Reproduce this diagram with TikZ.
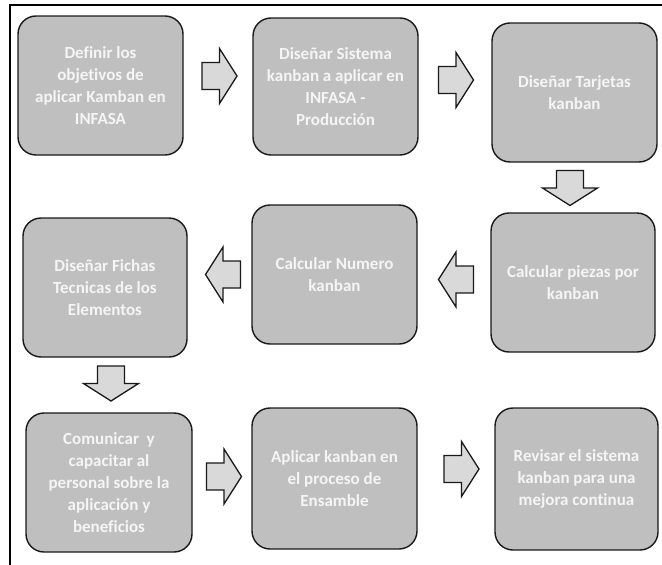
\documentclass[tikz,border=0pt]{standalone}
\usepackage{fontspec}
\setmainfont{Carlito}[Ligatures=NoCommon]
\begin{document}
\begin{tikzpicture}[x=1pt,y=-1pt,
  stepbox/.style={draw=black!90, line width=1.4pt, fill=boxgray, rounded corners=18pt,
    align=center, text=white!96!black, font=\fontsize{17}{21.8}\selectfont\bfseries, inner sep=2pt},
  blockarrow/.style={draw=black!90, line width=1.3pt, fill=arrowgray, line join=miter},
  pics/barrow/.style={code={
    \draw[blockarrow] (-17.5,-13.5) -- (0,-13.5) -- (0,-27.5) -- (17.5,0)
      -- (0,27.5) -- (0,13.5) -- (-17.5,13.5) -- cycle;}}
]
\definecolor{boxgray}{HTML}{BFBFBF}
\definecolor{arrowgray}{HTML}{D9D9D9}
\useasboundingbox (0,0) rectangle (662,565);

% frame: left and top rules
\draw[line width=2pt] (10,565) -- (10,4.5) -- (662,4.5);

% process steps
\node[stepbox, minimum width=165pt, minimum height=139pt] (b1) at (100.5,85.5)
  {Definir los\\objetivos de\\aplicar Kamban en\\INFASA};
\node[stepbox, minimum width=165pt, minimum height=137pt] (b2) at (335.5,86.5)
  {Diseñar Sistema\\kanban a aplicar en\\INFASA -\\Producción};
\node[stepbox, minimum width=165pt, minimum height=139pt] (b3) at (574.5,92.5)
  {Diseñar Tarjetas\\kanban};
\node[stepbox, minimum width=164pt, minimum height=139pt] (b4) at (573,282.5)
  {Calcular piezas por\\kanban};
\node[stepbox, minimum width=165pt, minimum height=139pt] (b5) at (334.5,274.5)
  {Calcular Numero\\kanban};
\node[stepbox, minimum width=164pt, minimum height=139pt] (b6) at (105,287.5)
  {Diseñar Fichas\\Tecnicas de los\\Elementos};
\node[stepbox, minimum width=166pt, minimum height=139pt] (b7) at (109,482.5)
  {Comunicar\ \ y\\capacitar al\\personal sobre la\\aplicación y\\beneficios};
\node[stepbox, minimum width=165pt, minimum height=141pt] (b8) at (334.5,478.5)
  {Aplicar kanban en\\el proceso de\\Ensamble};
\node[stepbox, minimum width=163pt, minimum height=142pt] (b9) at (576.5,479)
  {Revisar el sistema\\kanban para una\\mejora continua};

% block arrows between steps
\coordinate (a12) at (219.5,76);
\coordinate (a23) at (456,80);
\coordinate (a34) at (570,188);
\coordinate (a45) at (456,279.5);
\coordinate (a56) at (223,274.5);
\coordinate (a67) at (111,383.5);
\coordinate (a78) at (224,476.5);
\coordinate (a89) at (461.5,469);

\pic at (a12) {barrow};
\pic at (a23) {barrow};
\pic[rotate=-90] at (a34) {barrow};
\pic[xscale=-1] at (a45) {barrow};
\pic[xscale=-1] at (a56) {barrow};
\pic[rotate=-90] at (a67) {barrow};
\pic at (a78) {barrow};
\pic at (a89) {barrow};
\end{tikzpicture}
\end{document}
